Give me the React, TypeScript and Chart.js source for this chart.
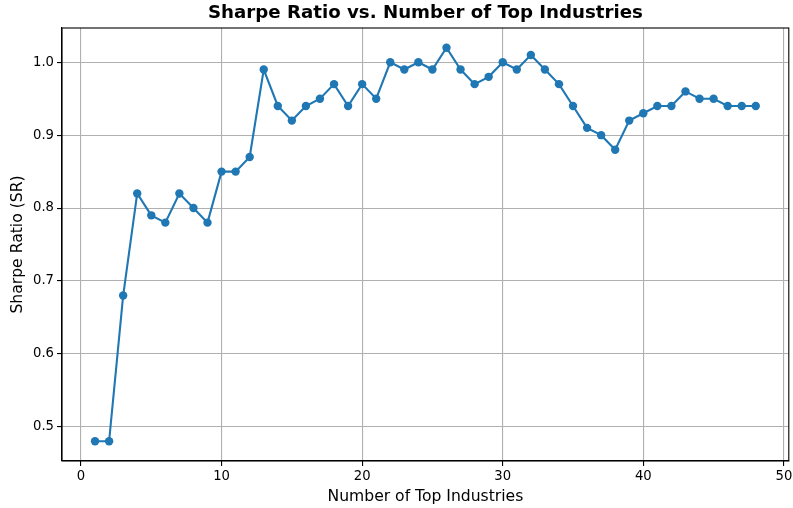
import React, { useEffect, useRef } from "react";
import { Chart, registerables } from "chart.js";

Chart.register(...registerables);

const numIndustries = [1, 2, 3, 4, 5, 6, 7, 8, 9, 10, 11, 12, 13, 14, 15, 16, 17, 18, 19, 20, 21, 22, 23, 24, 25, 26, 27, 28, 29, 30, 31, 32, 33, 34, 35, 36, 37, 38, 39, 40, 41, 42, 43, 44, 45, 46, 47, 48];
const sharpeRatio = [0.48, 0.48, 0.68, 0.82, 0.79, 0.78, 0.82, 0.80, 0.78, 0.85, 0.85, 0.87, 0.99, 0.94, 0.92, 0.94, 0.95, 0.97, 0.94, 0.97, 0.95, 1.00, 0.99, 1.00, 0.99, 1.02, 0.99, 0.97, 0.98, 1.00, 0.99, 1.01, 0.99, 0.97, 0.94, 0.91, 0.90, 0.88, 0.92, 0.93, 0.94, 0.94, 0.96, 0.95, 0.95, 0.94, 0.94, 0.94];
const xTicks = [0, 10, 20, 30, 40, 50];
const yTicks = [0.5, 0.6, 0.7, 0.8, 0.9, 1.0];

const FONT = "'DejaVu Sans', sans-serif";

const frame = {
  id: "frame",
  afterDraw(chart: any) {
    const { ctx, chartArea } = chart;
    ctx.save();
    ctx.strokeStyle = "#000";
    ctx.lineWidth = 1.1;
    ctx.strokeRect(chartArea.left, chartArea.top, chartArea.right - chartArea.left, chartArea.bottom - chartArea.top);
    ctx.restore();
  },
};

export default function App() {
  const ref = useRef<HTMLCanvasElement | null>(null);
  useEffect(() => {
    if (!ref.current) return;
    const chart = new Chart(ref.current, {
      type: "line",
      data: {
        datasets: [
          {
            data: numIndustries.map((x, i) => ({ x, y: sharpeRatio[i] })),
            borderColor: "#1f77b4",
            backgroundColor: "#1f77b4",
            borderWidth: 2.1,
            pointRadius: 4.2,
            pointBorderWidth: 0,
            pointBackgroundColor: "#1f77b4",
            tension: 0,
          },
        ],
      },
      options: {
        animation: false,
        responsive: false,
        layout: { padding: { left: 0, right: 4, top: 0, bottom: 0 } },
        plugins: {
          legend: { display: false },
          tooltip: { enabled: false },
          title: {
            display: true,
            fullSize: false,
            text: "Sharpe Ratio vs. Number of Top Industries",
            color: "#000",
            font: { family: FONT, size: 18.2, weight: "bold", lineHeight: 1.2 },
            padding: { top: 2.6, bottom: 3.56 },
          },
        },
        scales: {
          x: {
            type: "linear",
            min: -1.35,
            max: 50.35,
            afterBuildTicks: (s: any) => {
              s.ticks = xTicks.map((v) => ({ value: v }));
            },
            afterFit: (s: any) => {
              s.height = 47;
              s.paddingLeft = 0;
              s.paddingRight = 0;
            },
            ticks: {
              color: "#000",
              font: { family: FONT, size: 13.2 },
              padding: 3,
              maxRotation: 0,
              callback: (v: any) => String(v),
            },
            grid: { color: "#b0b0b0", lineWidth: 1.1, tickColor: "#000", tickLength: 5, tickWidth: 1.1 },
            border: { color: "#000", width: 1.1 },
            title: {
              display: true,
              text: "Number of Top Industries",
              color: "#000",
              font: { family: FONT, size: 15.6, lineHeight: 1.2 },
              padding: { top: 0, bottom: 2 },
            },
          },
          y: {
            type: "linear",
            min: 0.453,
            max: 1.047,
            afterBuildTicks: (s: any) => {
              s.ticks = yTicks.map((v) => ({ value: v }));
            },
            afterFit: (s: any) => {
              s.width = 62;
              s.paddingTop = 0;
              s.paddingBottom = 0;
            },
            ticks: {
              color: "#000",
              font: { family: FONT, size: 13.2 },
              padding: 3,
              callback: (v: any) => Number(v).toFixed(1),
            },
            grid: { color: "#b0b0b0", lineWidth: 1.1, tickColor: "#000", tickLength: 5, tickWidth: 1.1 },
            border: { color: "#000", width: 1.1 },
            title: {
              display: true,
              text: "Sharpe Ratio (SR)",
              color: "#000",
              font: { family: FONT, size: 15.6, lineHeight: 1.2 },
              padding: { top: 8.5, bottom: 0 },
            },
          },
        },
      },
      plugins: [frame],
    } as any);
    return () => chart.destroy();
  }, []);
  return (
    <div style={{ position: "fixed", left: 0, top: 0, width: 793, height: 508, background: "#fff" }}>
      <canvas ref={ref} width={793} height={508} style={{ width: 793, height: 508 }} />
    </div>
  );
}
